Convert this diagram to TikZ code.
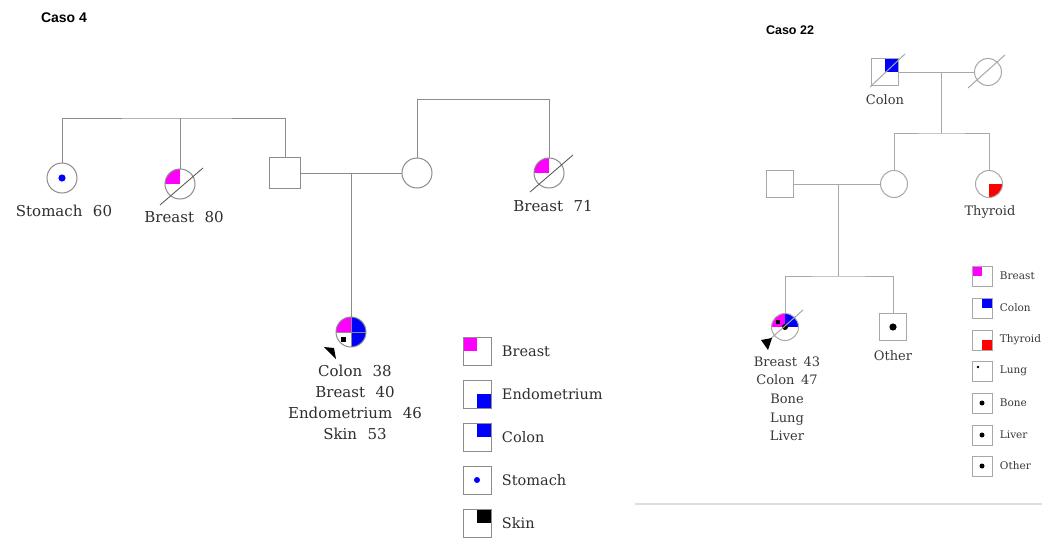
\documentclass[tikz,border=0pt]{standalone}
\usepackage{fontspec}
\setmainfont{DejaVu Serif}
\setsansfont{Liberation Sans}
\usetikzlibrary{positioning}
\definecolor{linegray}{HTML}{8C8C8C}
\definecolor{lightline}{HTML}{A8A8A8}
\definecolor{slashgray}{HTML}{505050}
\definecolor{breastc}{HTML}{FF00FF}
\definecolor{colonc}{HTML}{0000FF}
\definecolor{thyroidc}{HTML}{FF0000}
\begin{document}
\begin{tikzpicture}[x=1pt,y=-1pt,
  ind/.style={draw=linegray, line width=1pt, inner sep=0pt, outer sep=0pt},
  fem/.style={ind, circle, minimum size=30pt},
  mal/.style={ind, rectangle, minimum size=31pt},
  femb/.style={ind, draw=lightline, circle, minimum size=27pt},
  malb/.style={ind, draw=lightline, rectangle, minimum size=27pt},
  ul/.style={path picture={\fill[#1] (path picture bounding box.center) rectangle (path picture bounding box.north west);}},
  ur/.style={path picture={\fill[#1] (path picture bounding box.center) rectangle (path picture bounding box.north east);}},
  lr/.style={path picture={\fill[#1] (path picture bounding box.center) rectangle (path picture bounding box.south east);}},
  dot/.style={path picture={\fill[#1] (path picture bounding box.center) circle[radius=3.6pt];}},
  line/.style={draw=linegray, line width=1pt},
  lline/.style={draw=lightline, line width=1pt},
  lbl/.style={font=\fontsize{15}{21}\selectfont, text=black!82, align=center},
  slbl/.style={font=\fontsize{13}{18.7}\selectfont, text=black!78, align=center},
  lgd/.style={draw=linegray, line width=0.8pt, inner sep=0pt, minimum size=28pt},
  slgd/.style={draw=lightline, line width=0.8pt, inner sep=0pt, minimum size=20pt},
  lgdtext/.style={font=\fontsize{14.5}{16}\selectfont, text=black!82, anchor=west},
  slgdtext/.style={font=\fontsize{10.5}{12}\selectfont, text=black!78, anchor=west},
  title/.style={font=\sffamily\bfseries\fontsize{14}{16}\selectfont}
]
\useasboundingbox[fill=white] (0,0) rectangle (1042,538);

%% Caso 4
\node[title] (t4) at (64,18) {Caso 4};

\node[fem, dot=colonc] (sto) at (62,178) {};
\node[fem, ul=breastc] (b80) at (180,184) {};
\node[mal] (fa4) at (285,173) {};
\node[fem] (mo4) at (417,173) {};
\node[fem, ul=breastc] (b71) at (549,173) {};

\coordinate (sib4) at (180,118);
\path[line] (sto.north) |- (sib4) -| (fa4.north);
\path[line] (sib4) -- (b80.north);
\path[line] (mo4.north) -- ++(0,-59) -| (b71.north);
\path[line] (fa4.east) -- (mo4.west);
\coordinate (mate4) at (351,173);

\draw[slashgray, line width=0.8pt] ([shift={(-20,21)}]b80.center) -- ([shift={(23,-16)}]b80.center);
\draw[slashgray, line width=0.8pt] ([shift={(-19,19)}]b71.center) -- ([shift={(24,-18)}]b71.center);

\node[fem, path picture={
  \fill[breastc] (path picture bounding box.center) rectangle (path picture bounding box.north west);
  \fill[colonc] (path picture bounding box.center) rectangle (path picture bounding box.south east |- path picture bounding box.north);
  \fill[colonc] (path picture bounding box.center) rectangle (path picture bounding box.south east);
  \draw[linegray, line width=0.7pt] (path picture bounding box.north) -- (path picture bounding box.south)
    (path picture bounding box.west) -- (path picture bounding box.east);
  \fill[black] ([shift={(-10,5)}]path picture bounding box.center) rectangle ++(5,5);
}] (pr4) at (351,332) {};
\path[line] (mate4) -- (pr4.north);
\fill[black] ([shift={(-27,15)}]pr4.center) -- ([shift={(-17,16)}]pr4.center) -- ([shift={(-15,27)}]pr4.center) -- cycle;

\node[lbl] (lsto) at (64,211) {Stomach\hspace{0.7em}60};
\node[lbl] (lb80) at (184,217) {Breast\hspace{0.7em}80};
\node[lbl] (lb71) at (553,206) {Breast\hspace{0.7em}71};
\node[lbl, anchor=north] (lpr4) at (355,362) {Colon\hspace{0.7em}38\\Breast\hspace{0.7em}40\\Endometrium\hspace{0.7em}46\\Skin\hspace{0.7em}53};

% legend
\node[lgd, ul=breastc] (k1) at (477,351) {};
\node[lgd, lr=colonc] (k2) at (477,394) {};
\node[lgd, ur=colonc] (k3) at (477,437) {};
\node[lgd, path picture={\fill[colonc] (path picture bounding box.center) circle[radius=3pt];}] (k4) at (477,480) {};
\node[lgd, ur=black] (k5) at (477,523) {};
\node[lgdtext, right=7pt of k1] {Breast};
\node[lgdtext, right=7pt of k2] {Endometrium};
\node[lgdtext, right=7pt of k3] {Colon};
\node[lgdtext, right=7pt of k4] {Stomach};
\node[lgdtext, right=7pt of k5] {Skin};

%% Caso 22
\node[title, font=\sffamily\bfseries\fontsize{12.5}{14}\selectfont] (t22) at (790,30) {Caso 22};

\node[malb, ur=colonc] (gf) at (885,72) {};
\node[femb] (gm) at (988,72) {};
\path[lline] (gf.east) -- (gm.west);
\draw[lightline, line width=1pt] ([shift={(-15,15)}]gf.center) -- ([shift={(20,-18)}]gf.center);
\draw[lightline, line width=1pt] ([shift={(-20,16)}]gm.center) -- ([shift={(17,-17)}]gm.center);
\coordinate (mate22a) at (941,72);
\coordinate (sib22a) at (941,133);

\node[femb] (mo22) at (894,184) {};
\node[femb, lr=thyroidc] (thy) at (989,184) {};
\path[lline] (mate22a) -- (sib22a);
\path[lline] (mo22.north) |- (sib22a) -| (thy.north);

\node[malb] (fa22) at (780,184) {};
\path[lline] (fa22.east) -- (mo22.west);
\coordinate (mate22b) at (838,184);
\coordinate (sib22b) at (838,276);

\node[femb, path picture={
  \fill[breastc] (path picture bounding box.center) rectangle (path picture bounding box.north west);
  \fill[colonc] (path picture bounding box.center) rectangle (path picture bounding box.south east |- path picture bounding box.north);
  \fill[black] ([shift={(-9,-7)}]path picture bounding box.center) rectangle ++(4,4);
  \fill[black] (path picture bounding box.center) circle[radius=3pt];
}] (pr22) at (785,327) {};
\node[malb, dot=black] (oth) at (893,327) {};
\path[lline] (mate22b) -- (sib22b);
\path[lline] (pr22.north) |- (sib22b) -| (oth.north);
\draw[lightline, line width=1pt] ([shift={(-17,14)}]pr22.center) -- ([shift={(18,-17)}]pr22.center);
\fill[black] ([shift={(-24,13)}]pr22.center) -- ([shift={(-13,11)}]pr22.center) -- ([shift={(-17,23)}]pr22.center) -- cycle;

\node[slbl] (lgf) at (885,100) {Colon};
\node[slbl] (lthy) at (990,212) {Thyroid};
\node[slbl] (loth) at (893,356) {Other};
\node[slbl, anchor=north] (lpr22) at (787,353) {Breast\hspace{0.5em}43\\Colon\hspace{0.5em}47\\Bone\\Lung\\Liver};

% legend
\node[slgd, ul=breastc] (s1) at (982,276) {};
\node[slgd, ur=colonc] (s2) at (982,308) {};
\node[slgd, lr=thyroidc] (s3) at (982,340) {};
\node[slgd, path picture={\fill[black] ([shift={(-4,-4)}]path picture bounding box.center) circle[radius=1.3pt];}] (s4) at (982,371) {};
\node[slgd, path picture={\fill[black] (path picture bounding box.center) circle[radius=2.5pt];}] (s5) at (982,403) {};
\node[slgd, path picture={\fill[black] (path picture bounding box.center) circle[radius=2.5pt];}] (s6) at (982,435) {};
\node[slgd, path picture={\fill[black] (path picture bounding box.center) circle[radius=2.5pt];}] (s7) at (982,466) {};
\node[slgdtext, right=4pt of s1] {Breast};
\node[slgdtext, right=4pt of s2] {Colon};
\node[slgdtext, right=4pt of s3] {Thyroid};
\node[slgdtext, right=4pt of s4] {Lung};
\node[slgdtext, right=4pt of s5] {Bone};
\node[slgdtext, right=4pt of s6] {Liver};
\node[slgdtext, right=4pt of s7] {Other};

\coordinate (sepL) at (635,504);
\coordinate (sepR) at (1042,504);
\draw[black!13, line width=1.5pt] (sepL) -- (sepR);
\end{tikzpicture}
\end{document}
